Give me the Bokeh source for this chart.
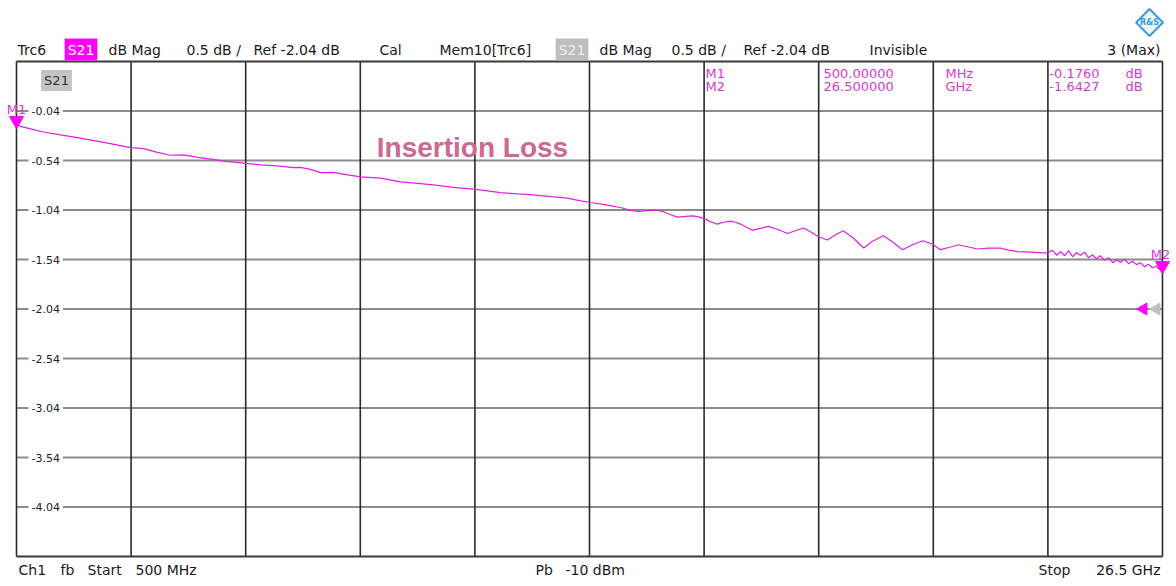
from bokeh.plotting import figure
from bokeh.models import Range1d, Label
from bokeh.embed import file_html
from bokeh.resources import INLINE

# ---------------- data ----------------
freq_ghz = [0.50, 0.59, 0.82, 1.11, 1.50, 1.88, 2.29, 2.63, 3.09, 3.38,
            3.70, 3.99, 4.29, 4.61, 4.90, 5.26, 5.65, 6.04, 6.42, 6.78,
            6.94, 7.17, 7.40, 7.69, 8.01, 8.31, 8.76, 9.21, 9.60, 9.96,
            10.41, 10.87, 11.19, 11.48, 11.87, 12.23, 12.62, 13.00, 13.30, 13.52,
            13.91, 14.20, 14.43, 14.61, 14.82, 15.00, 15.18, 15.34, 15.50, 15.68,
            15.86, 16.02, 16.13, 16.27, 16.40, 16.54, 16.70, 16.81, 16.93, 17.06,
            17.20, 17.38, 17.56, 17.79, 17.99, 18.17, 18.36, 18.51, 18.70, 18.90,
            19.08, 19.26, 19.49, 19.72, 19.92, 20.17, 20.37, 20.60, 20.83, 21.06,
            21.28, 21.46, 21.67, 21.87, 22.08, 22.30, 22.55, 22.82, 23.01, 23.21,
            23.51, 23.89, 24.00, 24.10, 24.19, 24.28, 24.37, 24.46, 24.55, 24.64,
            24.73, 24.82, 24.91, 25.00, 25.09, 25.18, 25.28, 25.37, 25.46, 25.55,
            25.64, 25.73, 25.82, 25.91, 26.00, 26.09, 26.18, 26.27, 26.36, 26.43,
            26.50]
s21_db = [-0.176, -0.196, -0.221, -0.252, -0.282, -0.309, -0.342, -0.370, -0.410, -0.420,
          -0.458, -0.487, -0.483, -0.509, -0.527, -0.549, -0.567, -0.584, -0.594, -0.612,
          -0.610, -0.630, -0.662, -0.660, -0.685, -0.705, -0.718, -0.756, -0.771, -0.786,
          -0.811, -0.829, -0.846, -0.864, -0.877, -0.887, -0.905, -0.920, -0.947, -0.964,
          -0.991, -1.015, -1.043, -1.055, -1.046, -1.041, -1.058, -1.088, -1.112, -1.104,
          -1.099, -1.114, -1.132, -1.164, -1.182, -1.164, -1.152, -1.164, -1.182, -1.214,
          -1.243, -1.225, -1.206, -1.240, -1.277, -1.250, -1.222, -1.260, -1.310, -1.343,
          -1.290, -1.250, -1.325, -1.424, -1.356, -1.300, -1.361, -1.441, -1.391, -1.351,
          -1.384, -1.441, -1.416, -1.391, -1.411, -1.434, -1.426, -1.424, -1.446, -1.461,
          -1.466, -1.475, -1.446, -1.497, -1.461, -1.502, -1.451, -1.512, -1.472, -1.497,
          -1.466, -1.522, -1.492, -1.532, -1.502, -1.547, -1.522, -1.572, -1.542, -1.567,
          -1.537, -1.582, -1.557, -1.592, -1.572, -1.613, -1.587, -1.623, -1.608, -1.638,
          -1.643]

x_ticks = [0.5, 3.1, 5.7, 8.3, 10.9, 13.5, 16.1, 18.7, 21.3, 23.9, 26.5]
y_ticks = [0.46, -0.04, -0.54, -1.04, -1.54, -2.04, -2.54, -3.04, -3.54, -4.04, -4.54]
y_tick_labels = ["-0.04", "-0.54", "-1.04", "-1.54", "-2.04", "-2.54", "-3.04", "-3.54", "-4.04"]

marker_names = ["M1", "M2"]
marker_freq_ghz = [0.5, 26.5]
marker_db = [-0.1760, -1.6427]
marker_freq_text = ["500.00000", "26.500000"]
marker_unit = ["MHz", "GHz"]
marker_db_text = ["-0.1760", "-1.6427"]
ref_level_db = -2.04

# diagram extent (start/stop frequency, top/bottom of the 10-division scale)
X0, X1 = x_ticks[0], x_ticks[-1]
Y0, Y1 = y_ticks[-1], y_ticks[0]

# canvas pixel layout of the diagram area
W, H = 1176, 586
FX0, FX1, FY0, FY1 = 16, 1162, 61, 556
DX = (X1 - X0) / (FX1 - FX0)
DY = (Y1 - Y0) / (FY1 - FY0)

def gx(px):
    return X0 + (px - FX0) * DX
def gy(py):
    return Y1 - (py - FY0) * DY

# the frame covers the whole canvas so that header/footer texts are not clipped
p = figure(width=W, height=H, output_backend="svg", toolbar_location=None, tools="",
           x_range=Range1d(gx(0), gx(W)), y_range=Range1d(gy(H), gy(0)),
           min_border=0)
p.axis.visible = False
p.xgrid.visible = False
p.ygrid.visible = False
p.outline_line_color = None
p.background_fill_color = "white"
p.border_fill_color = "white"

# grid: horizontal (gray) and vertical (dark), frame edges dark
inner_y = y_ticks[1:-1]
p.segment(x0=[X0] * len(inner_y), y0=inner_y, x1=[X1] * len(inner_y), y1=inner_y,
          line_color="#8c8c8c", line_width=2)
p.segment(x0=x_ticks, y0=[Y0] * len(x_ticks), x1=x_ticks, y1=[Y1] * len(x_ticks),
          line_color="#2a2a2a", line_width=1.6)
p.segment(x0=[X0, X0], y0=[Y0, Y1], x1=[X1, X1], y1=[Y0, Y1],
          line_color="#3a3a3a", line_width=2)

def lab(text, px, py, size="14px", color="#1a1a1a", align="left", font="DejaVu Sans",
        bg=None, pad=0, style="normal", ydata=None):
    L = Label(x=gx(px), y=(gy(py) if ydata is None else ydata), text=text, text_font=font,
              text_font_size=size, text_color=color, text_align=align,
              text_baseline="middle", text_font_style=style)
    if bg is not None:
        L.background_fill_color = bg
        L.padding = pad
    p.add_layout(L)

TRACE = "#e020e0"
MK = "#d53ad5"

# trace
p.line(freq_ghz, s21_db, line_color=TRACE, line_width=1.2)

# y tick labels inside diagram
for t, v in zip(y_tick_labels, y_ticks[1:-1]):
    lab(t, 28, 0, size="11px", color="#222222", bg="white", pad=3, ydata=v)

# markers
p.scatter(marker_freq_ghz, [d + 4 * DY for d in marker_db], marker="inverted_triangle",
          size=14, fill_color="#ff00ff", line_color="#ff00ff")
lab(marker_names[0], 16, 109, size="13px", color=MK, align="center")
lab(marker_names[1], 1160, 254, size="13px", color=MK, align="center")

# reference level arrows
p.scatter([gx(1156)], [ref_level_db], marker="triangle", angle=1.5708, size=12,
          fill_color="#c0c0c0", line_color="#c0c0c0")
p.scatter([gx(1143)], [ref_level_db], marker="triangle", angle=1.5708, size=12,
          fill_color="#ff00ff", line_color="#ff00ff")

# in-diagram S21 tag
lab("S21", 56, 80, size="13px", color="#333333", align="center", bg="#c4c4c4", pad=3)

# title
lab("Insertion Loss", 472, 147, size="28px", color="#cd6890", align="center",
    font="Liberation Sans", style="bold")

# marker info table
for i, rowy in enumerate([73, 86]):
    lab(marker_names[i], 705, rowy, size="13px", color=MK)
    lab(marker_freq_text[i], 823, rowy, size="13px", color=MK)
    lab(marker_unit[i], 945, rowy, size="13px", color=MK)
    lab(marker_db_text[i], 1099, rowy, size="13px", color=MK, align="right")
    lab("dB", 1125, rowy, size="13px", color=MK)

# header
HY = 49
lab("Trc6", 17, HY)
lab("S21", 80.5, HY, color="white", align="center", bg="#ff00ff", pad=3)
lab("dB Mag", 108, HY)
lab("0.5 dB /", 186, HY)
lab("Ref -2.04 dB", 253, HY)
lab("Cal", 379, HY)
lab("Mem10[Trc6]", 439, HY)
lab("S21", 571.5, HY, color="#eeeeee", align="center", bg="#bdbdbd", pad=3)
lab("dB Mag", 599, HY)
lab("0.5 dB /", 671, HY)
lab("Ref -2.04 dB", 743, HY)
lab("Invisible", 869, HY)
lab("3 (Max)", 1160, HY, align="right")

# footer
BY = 569
lab("Ch1", 18, BY)
lab("fb", 60, BY)
lab("Start", 87, BY)
lab("500 MHz", 135, BY)
lab("Pb", 535, BY)
lab("-10 dBm", 565, BY)
lab("Stop", 1038, BY)
lab("26.5 GHz", 1160, BY, align="right")

# logo
p.scatter([gx(1149)], [gy(22)], marker="square", angle=0.785, size=19,
          fill_color="#eaf5fc", line_color="#3d9ad8", line_width=2)
lab("R&S", 1149, 22, size="8px", color="#3d9ad8", align="center", style="bold")

open("out.html", "w").write(file_html(p, INLINE))
